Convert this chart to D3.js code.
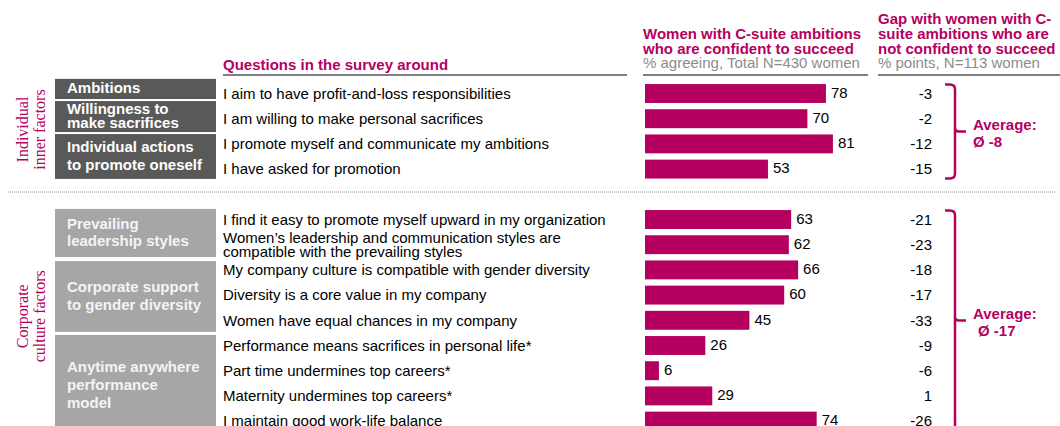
<!DOCTYPE html>
<html lang="en">
<head>
<meta charset="UTF-8">
<title>Women with C-suite ambitions</title>
<style>
    body { margin: 0; background: #fff; font-family: Arial, "Liberation Sans", sans-serif; }
    svg { display: block; }
    .q { font-size: 15px; fill: #000; }
    .val { font-size: 15px; fill: #000; }
    .head { font-size: 15px; font-weight: bold; fill: #b5005f; }
    .sub { font-size: 15px; fill: #8c8c8c; }
    .box-label { font-size: 15px; font-weight: bold; }
    .side { font-family: "Liberation Serif", "Times New Roman", serif; font-size: 16px; fill: #b5005f; }
    .avg { font-size: 15px; font-weight: bold; fill: #b5005f; }
</style>
</head>
<body>
<svg id="chart" width="1060" height="426"></svg>

<script src="https://d3js.org/d3.v7.min.js"></script>
<script>
// individual inner factors
const innerQuestions = [
    "I aim to have profit-and-loss responsibilities",
    "I am willing to make personal sacrifices",
    "I promote myself and communicate my ambitions",
    "I have asked for promotion"
];
const innerConfident = [78, 70, 81, 53];
const innerGap = [-3, -2, -12, -15];
const innerGroups = ["Ambitions", "Willingness to\nmake sacrifices", "Individual actions\nto promote oneself"];

// corporate culture factors
const cultureQuestions = [
    "I find it easy to promote myself upward in my organization",
    "Women\u2019s leadership and communication styles are\ncompatible with the prevailing styles",
    "My company culture is compatible with gender diversity",
    "Diversity is a core value in my company",
    "Women have equal chances in my company",
    "Performance means sacrifices in personal life*",
    "Part time undermines top careers*",
    "Maternity undermines top careers*",
    "I maintain good work-life balance"
];
const cultureConfident = [63, 62, 66, 60, 45, 26, 6, 29, 74];
const cultureGap = [-21, -23, -18, -17, -33, -9, -6, 1, -26];
const cultureGroups = ["Prevailing\nleadership styles", "Corporate support\nto gender diversity", "Anytime anywhere\nperformance\nmodel"];

const averages = ["\u00d8 -8", "\u00d8 -17"];

const magenta = "#b5005f";
const rowStep = 25.2;

const svg = d3.select("#chart");

const x = d3.scaleLinear().domain([0, 100]).range([645, 877]);

// column headers
function lines(sel, arr, x0, y0, lh, cls) {
    arr.forEach((t, i) => {
        sel.append("text").attr("class", cls).attr("x", x0).attr("y", y0 + i * lh).attr("dy", "0.35em").text(t);
    });
}
const head = svg.append("g");
lines(head, ["Questions in the survey around"], 223, 65, 15, "head");
lines(head, ["Women with C-suite ambitions", "who are confident to succeed"], 643, 34, 15, "head");
lines(head, ["% agreeing, Total N=430 women"], 643, 63, 15, "sub");
lines(head, ["Gap with women with C-", "suite ambitions who are", "not confident to succeed"], 878, 19, 15, "head");
lines(head, ["% points, N=113 women"], 878, 63, 15, "sub");

[[223, 627], [643, 868], [878, 1060]].forEach(([a, b]) => {
    head.append("line").attr("x1", a).attr("x2", b).attr("y1", 75).attr("y2", 75)
        .attr("stroke", "#808080").attr("stroke-width", 2);
});

// dotted separator
svg.append("line").attr("x1", 8).attr("x2", 1056).attr("y1", 192).attr("y2", 192)
    .attr("stroke", "#8c8c8c").attr("stroke-width", 1).attr("stroke-dasharray", "1,1");

const sections = [
    {
        questions: innerQuestions, confident: innerConfident, gap: innerGap, groups: innerGroups,
        top: 80.9, spans: [[-0.08, 0.72], [0.8, 2.03], [2.11, 3.89]], lh: [15, 13.5, 18],
        boxFill: "#595959", textFill: "#ffffff", side: ["Individual", "inner factors"],
        avg: averages[0], avgX: 973
    },
    {
        questions: cultureQuestions, confident: cultureConfident, gap: cultureGap, groups: cultureGroups,
        top: 206.9, spans: [[0.08, 1.99], [2.15, 4.96], [5.08, 9.1]], lh: [17, 18, 18],
        boxFill: "#a6a6a6", textFill: "#f4f4f4", side: ["Corporate", "culture factors"],
        avg: averages[1], avgX: 978
    }
];

sections.forEach(s => {
    const n = s.questions.length;
    const y = d3.scaleBand().domain(d3.range(n))
        .range([s.top, s.top + n * rowStep]).paddingInner(0.25).paddingOuter(0.125);
    const rowY = d3.scaleLinear().domain([0, n]).range([s.top, s.top + n * rowStep]);
    const g = svg.append("g");

    // group boxes
    s.groups.forEach((label, i) => {
        const [a, b] = s.spans[i];
        const y0 = rowY(a), y1 = rowY(b);
        g.append("rect").attr("x", 55).attr("y", y0).attr("width", 161).attr("height", y1 - y0)
            .attr("fill", s.boxFill);
        const parts = label.split("\n");
        const cy = (y0 + y1) / 2 - (parts.length - 1) * s.lh[i] / 2;
        parts.forEach((p, j) => {
            g.append("text").attr("class", "box-label").attr("fill", s.textFill)
                .attr("x", 67).attr("y", cy + j * s.lh[i] - 1).attr("dy", "0.35em").text(p);
        });
    });

    // questions
    s.questions.forEach((q, i) => {
        const parts = q.split("\n");
        const c = y(i) + y.bandwidth() / 2;
        parts.forEach((p, j) => {
            g.append("text").attr("class", "q").attr("x", 223)
                .attr("y", c + (j - (parts.length - 1) / 2) * 14).attr("dy", "0.35em").text(p);
        });
    });

    // bars
    g.selectAll("rect.bar").data(s.confident).join("rect").attr("class", "bar")
        .attr("x", x(0)).attr("y", (d, i) => y(i))
        .attr("width", d => x(d) - x(0)).attr("height", y.bandwidth())
        .attr("fill", magenta);
    g.selectAll("text.val").data(s.confident).join("text").attr("class", "val")
        .attr("x", d => x(d) + 5).attr("y", (d, i) => y(i) + y.bandwidth() / 2 - 1)
        .attr("dy", "0.35em").text(d => d);

    // gap values
    g.selectAll("text.gap").data(s.gap).join("text").attr("class", "val gap")
        .attr("x", 932).attr("text-anchor", "end")
        .attr("y", (d, i) => y(i) + y.bandwidth() / 2).attr("dy", "0.35em").text(d => d);

    // bracket
    const top = y(0) + 0.5, bottom = y(n - 1) + y.bandwidth();
    const mid = (top + bottom) / 2;
    g.append("path")
        .attr("d", `M945,${top} H950 Q955,${top} 955,${top + 5} V${bottom - 5} Q955,${bottom} 950,${bottom} H945
                    M955,${mid - 4} Q955,${mid} 959,${mid} H966`)
        .attr("fill", "none").attr("stroke", magenta).attr("stroke-width", 2.5);
    g.append("text").attr("class", "avg").attr("x", 973).attr("y", mid - 7).attr("dy", "0.35em").text("Average:");
    g.append("text").attr("class", "avg").attr("x", s.avgX).attr("y", mid + 10).attr("dy", "0.35em").text(s.avg);

    // side label
    const sideY = (top + Math.min(bottom, 426)) / 2 - 2;
    s.side.forEach((t, j) => {
        g.append("text").attr("class", "side").attr("text-anchor", "middle")
            .attr("transform", `translate(${22 + j * 17},${sideY}) rotate(-90)`)
            .attr("dy", "0.35em").text(t);
    });
});
</script>
</body>
</html>
